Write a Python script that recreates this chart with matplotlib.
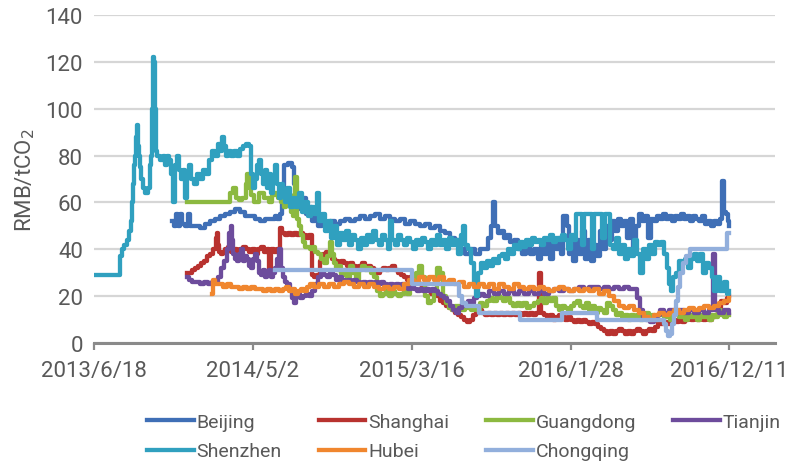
import numpy as np
import matplotlib
matplotlib.use("Agg")
import matplotlib.pyplot as plt

plt.rcParams['font.family'] = ['Roboto', 'DejaVu Sans']

start = np.datetime64('2013-06-18')

# (days since 2013-06-18, RMB/tCO2)
beijing = [(156,52),(160,50),(164,55),(168,50),(172,55),(176,51),(182,50),(188,55),(192,50),(202,50),(212,49),(222,51),(232,52),(242,53),(252,54),(262,55),(272,56),(282,57),(292,56),(302,54),(312,54),(322,53),(332,52),(342,53),(352,53),(362,54),(366,53),(372,55),(376,66),(380,76),(388,77),(396,75),(400,68),(404,64),(408,60),(412,57),(418,62),(424,55),(430,58),(436,52),(442,55),(448,50),(456,52),(464,50),(472,52),(482,51),(492,52),(502,53),(512,52),(522,53),(532,54),(542,53),(552,54),(562,55),(572,53),(582,54),(592,53),(602,52),(612,53),(622,51),(632,52),(642,51),(652,50),(662,51),(672,49),(682,50),(692,48),(702,47),(712,45),(722,44),(732,40),(742,38),(752,40),(762,38),(772,40),(782,40),(788,45),(794,50),(798,60),(802,50),(808,47),(814,48),(820,45),(826,46),(832,43),(840,44),(848,40),(856,38),(864,42),(872,38),(880,40),(888,36),(894,42),(900,38),(906,44),(912,36),(918,44),(924,40),(930,45),(934,38),(938,54),(946,50),(950,38),(952,45),(958,35),(964,44),(970,38),(976,48),(982,36),(988,44),(994,35),(1000,42),(1006,37),(1012,48),(1018,40),(1024,50),(1030,44),(1036,52),(1042,48),(1048,53),(1054,50),(1060,52),(1066,45),(1072,53),(1078,40),(1084,50),(1090,55),(1096,52),(1102,54),(1108,45),(1114,53),(1120,52),(1126,54),(1132,53),(1138,55),(1144,53),(1150,54),(1156,52),(1162,54),(1168,53),(1174,55),(1180,53),(1186,54),(1192,52),(1198,54),(1204,53),(1210,52),(1216,54),(1222,51),(1228,52),(1234,50),(1240,52),(1246,51),(1252,53),(1256,69),(1260,56),(1264,55),(1268,52),(1272,50)]

shanghai = [(186,30),(190,30),(196,31),(202,32),(208,33),(214,34),(220,35),(226,37),(232,38),(238,40),(244,45),(246,47),(248,42),(250,39),(254,38),(258,39),(262,40),(268,41),(274,39),(280,40),(286,38),(292,40),(298,41),(304,40),(310,39),(316,40),(322,38),(328,40),(334,41),(340,39),(346,40),(350,30),(354,40),(360,39),(366,40),(372,49),(376,47),(382,46),(388,47),(394,46),(400,47),(406,46),(412,47),(418,46),(424,45),(430,46),(436,29),(440,28),(446,29),(452,35),(458,38),(464,39),(470,38),(476,36),(482,35),(488,34),(494,35),(500,34),(506,33),(512,34),(518,33),(524,32),(530,33),(536,34),(542,32),(548,33),(554,32),(560,31),(566,30),(572,31),(578,32),(584,31),(590,32),(596,33),(602,31),(608,30),(614,29),(620,28),(626,27),(632,28),(638,27),(644,26),(650,25),(656,24),(662,23),(668,22),(674,21),(680,22),(686,20),(692,18),(698,17),(704,16),(710,15),(716,14),(722,13),(728,12),(734,11),(740,10),(746,9),(752,10),(758,12),(764,13),(770,14),(776,13),(782,12),(788,13),(794,12),(800,13),(806,12),(812,13),(818,12),(824,13),(830,12),(836,13),(842,12),(848,13),(854,12),(860,13),(866,12),(872,13),(878,12),(884,13),(890,30),(894,13),(900,12),(906,11),(912,12),(918,10),(924,11),(930,12),(936,11),(942,10),(948,11),(954,10),(960,9),(966,10),(972,9),(978,10),(984,9),(990,8),(996,9),(1002,8),(1008,7),(1014,6),(1020,5),(1026,4),(1032,5),(1038,4),(1044,5),(1050,6),(1056,5),(1062,4),(1068,5),(1074,4),(1080,5),(1086,6),(1092,5),(1098,4),(1104,5),(1110,6),(1116,5),(1122,7),(1128,9),(1134,8),(1140,9),(1146,8),(1152,9),(1158,10),(1164,9),(1170,10),(1176,9),(1182,10),(1188,11),(1194,10),(1200,11),(1206,10),(1212,11),(1218,10),(1224,11),(1230,10),(1236,11),(1242,12),(1248,15),(1254,18),(1260,17),(1266,19),(1272,20)]

guangdong = [(186,60),(270,60),(272,64),(278,66),(284,62),(290,61),(296,62),(304,68),(306,72),(310,66),(314,63),(320,60),(330,64),(340,62),(350,60),(356,63),(362,64),(368,62),(374,60),(380,58),(384,62),(388,63),(394,56),(398,54),(402,71),(406,53),(410,50),(414,46),(418,43),(422,41),(432,40),(438,41),(442,39),(448,38),(454,36),(460,34),(466,37),(472,43),(476,38),(480,34),(484,31),(490,33),(494,29),(500,31),(506,28),(512,33),(518,30),(524,27),(530,31),(536,33),(542,31),(548,32),(554,30),(560,28),(566,22),(572,20),(578,21),(584,22),(590,20),(596,22),(602,21),(608,20),(614,21),(620,22),(626,21),(632,24),(638,26),(644,30),(650,33),(656,28),(662,20),(668,17),(674,18),(680,22),(686,32),(692,30),(698,20),(704,17),(710,15),(716,14),(722,16),(730,15),(736,14),(742,16),(748,15),(754,14),(760,15),(766,14),(772,17),(778,16),(786,18),(792,19),(798,18),(806,20),(812,19),(818,18),(824,19),(832,17),(838,16),(846,17),(852,16),(858,17),(866,15),(872,16),(880,17),(888,18),(894,19),(900,17),(906,19),(912,18),(918,19),(924,16),(930,14),(936,16),(942,15),(948,14),(954,16),(960,17),(966,18),(972,16),(978,15),(984,17),(990,14),(996,16),(1002,13),(1008,15),(1014,14),(1020,13),(1026,17),(1032,16),(1038,14),(1044,12),(1050,13),(1056,11),(1062,12),(1068,10),(1074,12),(1080,11),(1086,12),(1092,10),(1098,12),(1104,13),(1110,11),(1116,12),(1122,10),(1128,12),(1134,13),(1140,11),(1146,12),(1152,10),(1158,13),(1164,12),(1170,11),(1176,13),(1182,10),(1188,12),(1194,11),(1200,13),(1206,10),(1212,12),(1218,11),(1224,13),(1230,10),(1236,12),(1242,11),(1248,14),(1254,12),(1260,11),(1266,13),(1272,12)]

tianjin = [(186,28),(190,27),(196,26),(204,26),(212,25),(220,26),(228,25),(236,26),(242,26),(248,28),(254,32),(260,35),(266,40),(270,47),(274,50),(276,44),(278,38),(282,36),(286,35),(290,38),(294,40),(298,35),(302,37),(306,36),(310,33),(314,32),(318,36),(322,38),(326,35),(330,30),(334,29),(338,31),(342,28),(346,30),(350,31),(354,28),(358,30),(362,32),(366,36),(370,40),(374,32),(378,28),(382,26),(386,25),(392,22),(396,19),(400,17),(404,20),(408,21),(412,19),(418,20),(424,21),(430,20),(436,22),(442,25),(448,28),(454,30),(460,29),(466,28),(472,30),(478,29),(484,27),(490,28),(496,27),(502,26),(508,27),(514,26),(520,27),(526,26),(532,25),(538,26),(544,25),(550,26),(556,25),(562,26),(568,25),(574,26),(580,25),(586,24),(592,25),(598,24),(604,25),(610,24),(616,25),(622,24),(628,23),(634,24),(640,23),(646,22),(652,23),(658,22),(664,23),(670,22),(676,23),(682,22),(688,21),(694,20),(700,19),(706,18),(712,16),(718,14),(724,13),(730,15),(736,17),(742,16),(748,18),(754,17),(760,19),(766,20),(772,21),(780,20),(790,22),(800,21),(810,22),(820,21),(830,22),(840,21),(850,22),(860,21),(870,22),(880,21),(890,22),(900,21),(910,22),(920,23),(930,22),(940,23),(950,22),(960,23),(970,24),(980,23),(990,24),(1000,24),(1010,23),(1020,24),(1030,23),(1040,24),(1050,23),(1060,24),(1070,23),(1080,23),(1086,19),(1092,14),(1098,11),(1104,10),(1112,9),(1120,10),(1126,12),(1132,14),(1140,13),(1150,14),(1160,13),(1170,14),(1180,13),(1190,14),(1200,13),(1210,14),(1220,13),(1230,14),(1238,38),(1242,14),(1250,13),(1260,14),(1272,13)]

shenzhen = [(0,29),(52,37),(56,40),(60,42),(66,44),(70,48),(74,52),(76,60),(78,68),(80,76),(82,80),(84,88),(86,93),(88,84),(90,80),(92,75),(94,70),(98,66),(102,64),(108,66),(112,76),(114,80),(116,100),(118,122),(120,120),(122,100),(124,82),(126,80),(132,78),(138,80),(142,76),(146,80),(150,78),(154,72),(158,60),(162,76),(166,80),(170,74),(174,70),(178,74),(182,62),(186,72),(190,76),(194,70),(200,68),(206,72),(212,70),(218,74),(224,72),(230,78),(236,82),(242,80),(248,85),(252,82),(256,88),(260,84),(264,80),(268,82),(274,80),(280,82),(286,80),(292,83),(298,84),(304,85),(310,84),(314,72),(318,66),(322,70),(326,76),(330,78),(334,72),(338,68),(342,74),(346,66),(350,72),(354,64),(358,70),(362,76),(366,68),(370,62),(374,68),(378,64),(382,60),(386,66),(392,58),(398,62),(404,58),(410,64),(416,56),(422,60),(428,54),(434,58),(440,55),(446,64),(450,52),(456,55),(462,48),(468,52),(474,45),(480,50),(486,42),(492,47),(498,44),(504,48),(510,42),(516,46),(522,44),(528,40),(534,45),(540,42),(546,46),(552,43),(558,48),(564,44),(570,42),(576,46),(582,44),(588,40),(592,52),(596,44),(602,42),(608,46),(614,44),(620,42),(626,45),(632,43),(638,40),(644,44),(650,42),(656,45),(662,43),(668,40),(674,44),(680,42),(686,46),(692,42),(698,44),(704,40),(710,45),(716,42),(722,44),(728,38),(734,46),(738,50),(742,42),(748,40),(754,34),(760,24),(764,20),(768,30),(774,34),(780,32),(786,35),(792,33),(798,36),(804,34),(810,37),(816,38),(822,36),(828,40),(834,38),(840,42),(846,40),(852,43),(858,41),(864,44),(870,42),(876,45),(882,43),(888,44),(894,42),(900,45),(906,44),(912,46),(918,43),(924,45),(930,44),(936,46),(942,44),(948,40),(954,46),(960,44),(964,55),(972,55),(976,42),(980,55),(992,55),(996,40),(1000,55),(1012,55),(1016,45),(1022,55),(1028,55),(1032,42),(1038,40),(1044,45),(1050,38),(1056,42),(1062,36),(1068,40),(1074,37),(1080,44),(1086,38),(1092,30),(1098,40),(1104,36),(1110,42),(1116,38),(1122,43),(1128,42),(1134,43),(1140,38),(1146,32),(1150,25),(1154,22),(1158,28),(1164,30),(1170,35),(1176,34),(1182,36),(1188,32),(1194,36),(1200,38),(1206,35),(1212,38),(1218,30),(1224,34),(1230,32),(1236,28),(1240,22),(1246,28),(1252,22),(1260,26),(1266,21),(1272,22)]

hubei = [(236,21),(238,27),(242,25),(250,25),(258,24),(266,25),(274,24),(282,24),(290,23),(298,24),(306,23),(314,24),(322,23),(330,23),(338,22),(346,23),(354,22),(362,23),(370,22),(378,23),(384,24),(390,22),(396,23),(402,21),(408,22),(414,23),(420,22),(426,24),(432,25),(440,24),(450,25),(460,24),(470,25),(480,24),(490,25),(500,26),(510,25),(520,24),(530,25),(540,24),(550,25),(560,24),(570,23),(580,24),(590,23),(600,24),(610,23),(620,25),(630,27),(640,26),(650,28),(660,27),(670,28),(680,27),(690,28),(700,26),(710,27),(720,25),(730,26),(740,24),(750,25),(760,24),(770,25),(780,24),(790,25),(800,23),(810,25),(820,24),(830,23),(840,25),(850,24),(860,23),(870,24),(880,23),(890,24),(900,23),(910,22),(920,23),(930,24),(940,23),(950,22),(960,23),(970,22),(980,23),(990,22),(1000,23),(1010,21),(1020,22),(1030,20),(1040,18),(1050,16),(1060,15),(1070,16),(1080,14),(1090,13),(1100,11),(1110,10),(1120,12),(1130,13),(1140,12),(1150,13),(1160,14),(1170,13),(1180,14),(1190,15),(1200,14),(1210,15),(1220,16),(1230,15),(1240,16),(1250,17),(1260,18),(1272,19)]

chongqing = [(362,31),(636,25),(730,20),(736,17),(744,16),(770,13),(852,10),(936,13),(1006,10),(1140,8),(1144,5),(1148,3),(1152,4),(1156,8),(1160,12),(1164,18),(1168,24),(1172,30),(1178,34),(1184,37),(1192,40),(1266,47),(1272,47)]

names = ['Beijing', 'Shanghai', 'Guangdong', 'Tianjin', 'Shenzhen', 'Hubei', 'Chongqing']
series = [beijing, shanghai, guangdong, tianjin, shenzhen, hubei, chongqing]
colors = ['#3f6fb6', '#b8322f', '#8cb940', '#6d4c9c', '#30a0bf', '#f0862e', '#92afdc']

tick_labels = ['2013/6/18', '2014/5/2', '2015/3/16', '2016/1/28', '2016/12/11']
tick_dates = np.array(['2013-06-18', '2014-05-02', '2015-03-16', '2016-01-28', '2016-12-11'], dtype='datetime64[D]')

fig = plt.figure(figsize=(8.07, 4.64), dpi=100)
ax = fig.add_axes([0.1165, 0.2586, 0.8438, 0.7069])

lines = {}
for name, data, c in zip(names, series, colors):
    days, vals = zip(*data)
    dates = start + np.array(days).astype('timedelta64[D]')
    ln, = ax.plot(dates, vals, color=c, lw=3.1, drawstyle='steps-post', label=name)
    lines[name] = ln

ax.set_ylim(0, 140)
ax.set_yticks(range(0, 141, 20))
ax.set_xlim(np.datetime64('2013-06-18'), np.datetime64('2017-03-12'))
ax.set_xticks(tick_dates)
ax.set_xticklabels(tick_labels)

ax.grid(axis='y', color='#d6d6d6', lw=1.6)
ax.set_axisbelow(True)
for s in ['top', 'right', 'left']:
    ax.spines[s].set_visible(False)
ax.spines['bottom'].set_color('#8a8a8a')
ax.spines['bottom'].set_linewidth(2.2)
ax.spines['bottom'].set_zorder(5)

ax.tick_params(axis='x', direction='out', length=5, width=1.6, color='#8a8a8a',
               labelsize=16, labelcolor='#595959', pad=7)
ax.tick_params(axis='y', length=0, labelsize=16, labelcolor='#595959', pad=8)

ax.set_ylabel('RMB/tCO$_2$', fontsize=16, color='#595959')
ax.yaxis.set_label_coords(-0.083, 0.5)

# row-wise legend order: column-major fill of 4 columns
order = ['Beijing', 'Shenzhen', 'Shanghai', 'Hubei', 'Guangdong', 'Chongqing', 'Tianjin']
leg = fig.legend([lines[n] for n in order], order, ncol=4, loc='center',
                 bbox_to_anchor=(0.575, 0.057), frameon=False, fontsize=14,
                 handlelength=2.4, handletextpad=0.15, columnspacing=1.9,
                 labelspacing=0.6)
for t in leg.get_texts():
    t.set_color('#595959')

fig.set_facecolor('white')
fig.savefig('out.png', dpi=100)
